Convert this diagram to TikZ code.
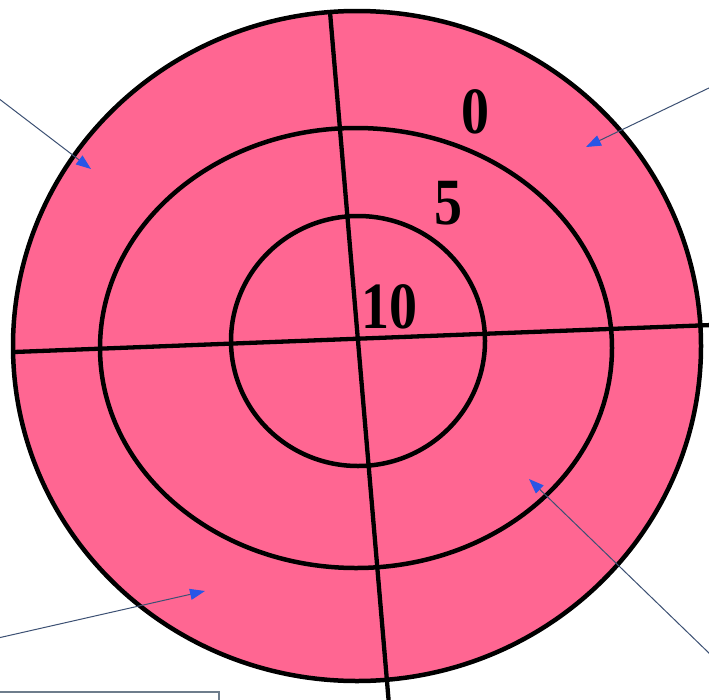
\documentclass[tikz,border=0pt]{standalone}
\usepackage{fontspec}
\setmainfont{Liberation Serif}
\usetikzlibrary{arrows.meta}
\definecolor{targetpink}{RGB}{255,102,146}
\definecolor{arrowblue}{RGB}{40,85,230}
\definecolor{leaderline}{RGB}{60,80,115}
\definecolor{boxline}{RGB}{110,125,140}
\tikzset{
  ring/.style={draw=black, line width=4.5pt},
  cross/.style={draw=black, line width=4.3pt},
  leader/.style={draw=leaderline, line width=1pt,
    -{Triangle[length=15pt,width=11pt,color=arrowblue,fill=arrowblue]}},
  score/.style={font=\bfseries\fontsize{56}{56}\selectfont, inner sep=0pt, yscale=1.18, transform shape},
}
\begin{document}
\begin{tikzpicture}[x=1pt,y=-1pt]
\useasboundingbox (0,0) rectangle (709,699);
\clip (0,0) rectangle (709,699);
% target
\fill[targetpink] (357,346) ellipse [x radius=344, y radius=335];
\draw[ring] (357,346) ellipse [x radius=344, y radius=335];
\draw[ring] (356,348) ellipse [x radius=256, y radius=220];
\draw[ring] (358,341) ellipse [x radius=127, y radius=125];
% cross lines
\coordinate (vtop) at (330,12);
\coordinate (vbot) at (389,705);
\coordinate (hleft) at (14,352);
\coordinate (hright) at (712,325);
\draw[cross] (vtop) -- (vbot);
\draw[cross] (hleft) -- (hright);
% labels
\node[score] (s0) at (475,112) {0};
\node[score] (s5) at (448,203) {5};
\node[score] (s10) at (389,307) {10};
% leader arrows
\coordinate (a1s) at (-2,98);
\coordinate (a1e) at (91,169);
\coordinate (a2s) at (711,87);
\coordinate (a2e) at (586,147);
\coordinate (a3s) at (-2,638);
\coordinate (a3e) at (205,591);
\coordinate (a4s) at (711,655);
\coordinate (a4e) at (529,479);
\draw[leader] (a1s) -- (a1e);
\draw[leader] (a2s) -- (a2e);
\draw[leader] (a3s) -- (a3e);
\draw[leader] (a4s) -- (a4e);
% caption box (cut off at bottom)
\coordinate (bx1) at (-2,692);
\coordinate (bx2) at (219,712);
\draw[boxline, line width=1.3pt] (bx1) rectangle (bx2);
\end{tikzpicture}
\end{document}
